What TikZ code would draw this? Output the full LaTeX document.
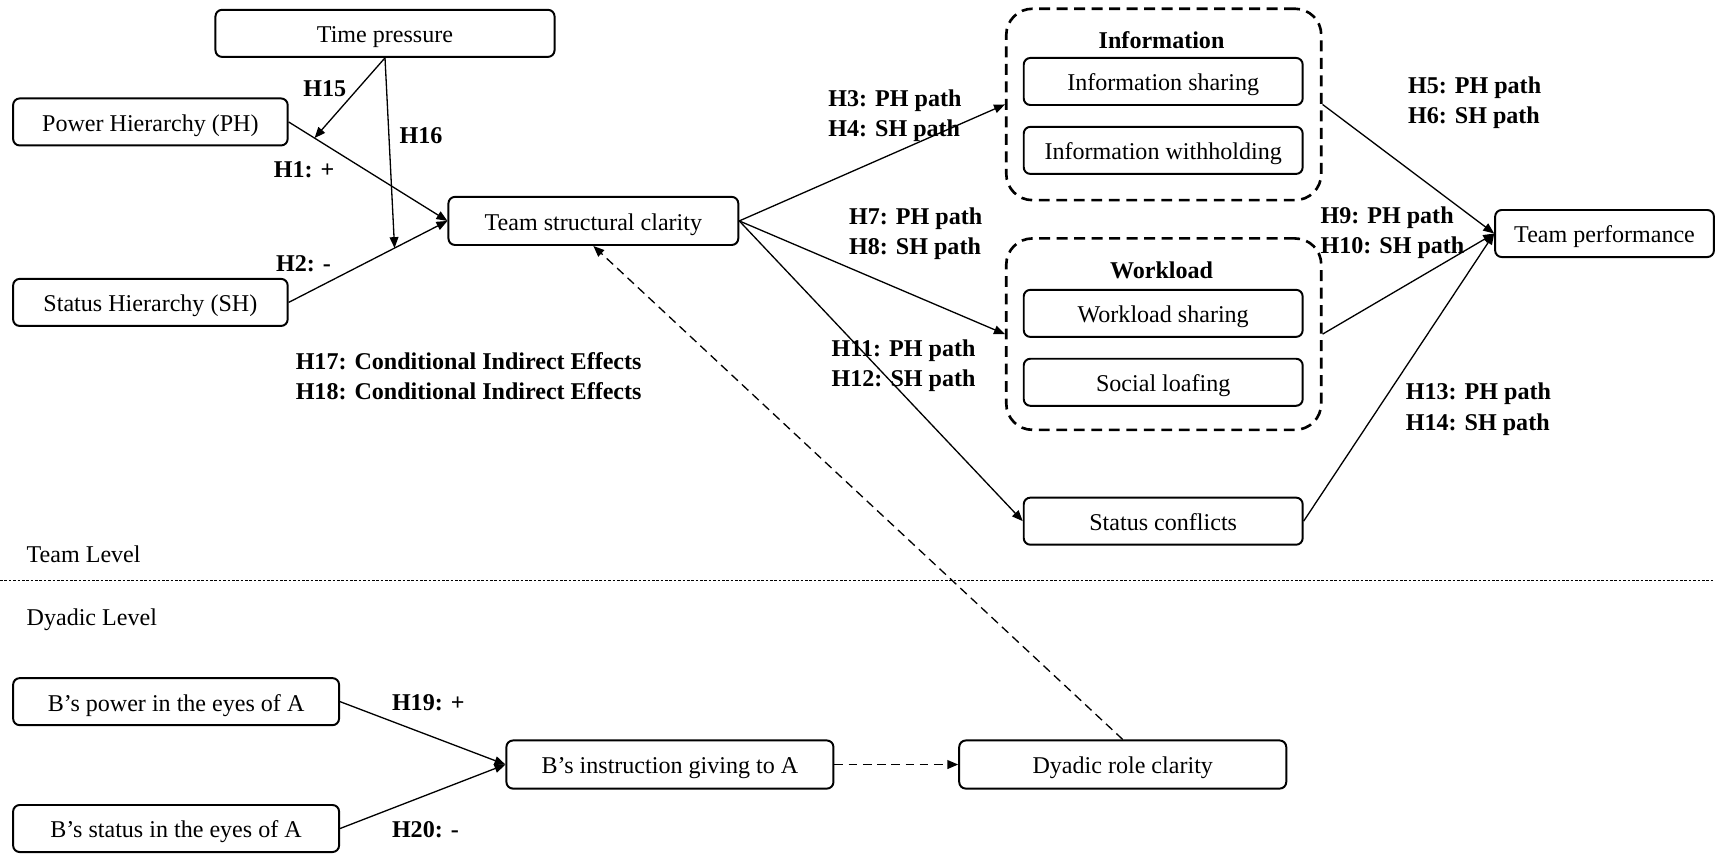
\documentclass[tikz,border=0pt]{standalone}
\usepackage{fontspec}
\setmainfont{Liberation Serif}
\usetikzlibrary{arrows.meta,calc}
\begin{document}
\begin{tikzpicture}[x=0.5pt,y=-0.5pt,
  box/.style={draw, line width=0.9pt, rounded corners=3pt, inner sep=0pt, minimum height=21.5pt, text height=9pt, text depth=0.4pt, font=\fontsize{11}{13}\selectfont},
  grp/.style={draw, line width=1.2pt, dash pattern=on 5pt off 3pt, rounded corners=12pt, minimum width=144pt, minimum height=87.5pt, inner sep=0pt},
  lab/.style={font=\bfseries\fontsize{11}{13}\selectfont, anchor=west, inner sep=0pt, text height=9pt, text depth=0.4pt},
  ttl/.style={font=\bfseries\fontsize{11}{13}\selectfont, inner sep=0pt, text height=9pt, text depth=0.4pt},
  lvl/.style={font=\fontsize{11}{13}\selectfont, anchor=west, inner sep=0pt, text height=9pt, text depth=0.4pt},
  arr/.style={-{Triangle[length=5pt,width=4pt]}, line width=0.6pt},
  darr/.style={-{Triangle[length=5pt,width=4pt]}, line width=0.6pt, dash pattern=on 4pt off 2.5pt}]
\useasboundingbox (0,0) rectangle (1568,780);
% team level boxes
\node[box, minimum width=155pt] (tp) at (352,30.5) {Time pressure};
\node[box, minimum width=125.5pt] (ph) at (137.5,111.5) {Power Hierarchy (PH)};
\node[box, minimum width=125.5pt] (sh) at (137.5,276.5) {Status Hierarchy (SH)};
\node[box, minimum width=132.5pt, minimum height=22pt] (tsc) at (542.5,202) {Team structural clarity};
\node[grp] (info) at (1064,95.5) {};
\node[ttl] (infot) at (1062,36) {Information};
\node[box, minimum width=127.5pt] (is) at (1063.5,74.5) {Information sharing};
\node[box, minimum width=127.5pt] (iw) at (1063.5,137.5) {Information withholding};
\node[grp] (wl) at (1064,305.5) {};
\node[ttl] (wlt) at (1062,246) {Workload};
\node[box, minimum width=127.5pt] (ws) at (1063.5,286.5) {Workload sharing};
\node[box, minimum width=127.5pt] (sl) at (1063.5,349.5) {Social loafing};
\node[box, minimum width=127.5pt] (sc) at (1063.5,476.5) {Status conflicts};
\node[box, minimum width=100pt] (tperf) at (1467,213.5) {Team performance};
% levels
\node[lvl] (tl) at (24,506) {Team Level};
\node[lvl] (dl) at (24,563) {Dyadic Level};
\coordinate (l1) at (0,531);
\coordinate (l2) at (1568,531);
\draw[line width=0.6pt, dash pattern=on 1.2pt off 0.8pt] (l1) -- (l2);
% dyadic boxes
\node[box, minimum width=149pt] (bp) at (161,641.5) {B’s power in the eyes of A};
\node[box, minimum width=149pt] (bs) at (161,757.5) {B’s status in the eyes of A};
\node[box, minimum width=149.5pt, minimum height=22pt] (bi) at (612.5,699) {B’s instruction giving to A};
\node[box, minimum width=149.5pt, minimum height=22pt] (drc) at (1026.5,699) {Dyadic role clarity};
% connectors
\coordinate (m15) at ($(ph.east)!0.163!(tsc.west)$);
\coordinate (m16) at ($(sh.east)!0.667!(tsc.west)$);
\draw[arr] (ph.east) -- (tsc.west);
\draw[arr] (sh.east) -- (tsc.west);
\draw[arr] (tp.south) -- (m15);
\draw[arr] (tp.south) -- (m16);
\draw[arr] (tsc.east) -- (info.west);
\draw[arr] (tsc.east) -- (wl.west);
\draw[arr] (tsc.east) -- (sc.west);
\draw[arr] (info.east) -- (tperf.west);
\draw[arr] (wl.east) -- (tperf.west);
\draw[arr] (sc.east) -- (tperf.west);
\draw[darr] (drc.north) -- (tsc.south);
\draw[arr] (bp.east) -- (bi.west);
\draw[arr] (bs.east) -- (bi.west);
\draw[darr, line width=0.8pt] (bi.east) -- (drc.west);
% labels
\node[lab] (h15) at (277,80) {H15};
\node[lab] (h16) at (365,123) {H16};
\node[lab] (h1) at (250,154) {H1: +};
\node[lab] (h2) at (252,240) {H2: -};
\node[lab] (h17) at (270,329) {H17: Conditional Indirect Effects};
\node[lab] (h18) at (270,357) {H18: Conditional Indirect Effects};
\node[lab] (h3) at (757,89) {H3: PH path};
\node[lab] (h4) at (757,116) {H4: SH path};
\node[lab] (h7) at (776,197) {H7: PH path};
\node[lab] (h8) at (776,224) {H8: SH path};
\node[lab] (h11) at (760,317) {H11: PH path};
\node[lab] (h12) at (760,345) {H12: SH path};
\node[lab] (h5) at (1287,77) {H5: PH path};
\node[lab] (h6) at (1287,104) {H6: SH path};
\node[lab] (h9) at (1207,196) {H9: PH path};
\node[lab] (h10) at (1207,223) {H10: SH path};
\node[lab] (h13) at (1285,357) {H13: PH path};
\node[lab] (h14) at (1285,385) {H14: SH path};
\node[lab] (h19) at (358,641) {H19: +};
\node[lab] (h20) at (358,757) {H20: -};
\end{tikzpicture}
\end{document}
